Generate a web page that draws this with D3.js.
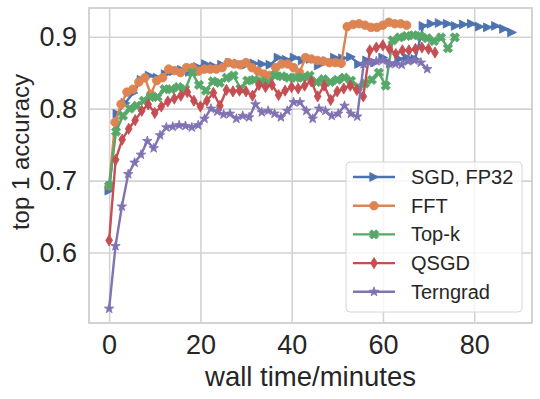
<!DOCTYPE html>
<html>
<head>
<meta charset="utf-8">
<script src="https://cdnjs.cloudflare.com/ajax/libs/d3/7.8.5/d3.min.js"></script>
<style>
body { margin: 0; background: #fff; }
svg text { font-family: "Liberation Sans", Arial, sans-serif; fill: #262626; }
</style>
</head>
<body>
<svg id="chart" width="540" height="399"></svg>
<script>
// methods, in legend / plotting order
const methods = ["SGD, FP32", "FFT", "Top-k", "QSGD", "Terngrad"];
const colors = ["#4c72b0", "#dd8452", "#55a868", "#c44e52", "#8172b3"];
// wall-clock minutes per epoch for each method
const epochMinutes = [1.765, 1.304, 1.515, 1.428, 1.394];

// top-1 accuracy after each epoch (0..50)
const sgdAcc = [0.686, 0.793, 0.808, 0.822, 0.840, 0.846, 0.843, 0.848, 0.852, 0.854,
    0.851, 0.858, 0.862, 0.859, 0.861, 0.864, 0.863, 0.861, 0.863, 0.862,
    0.861, 0.871, 0.868, 0.871, 0.867, 0.869, 0.860, 0.866, 0.871, 0.870,
    0.872, 0.862, 0.867, 0.864, 0.871, 0.862, 0.869, 0.871, 0.869, 0.915,
    0.918, 0.919, 0.918, 0.915, 0.917, 0.918, 0.914, 0.913, 0.915, 0.911, 0.906];
const fftAcc = [0.693, 0.781, 0.806, 0.823, 0.827, 0.837, 0.843, 0.820, 0.839, 0.843,
    0.855, 0.853, 0.850, 0.857, 0.857, 0.852, 0.855, 0.855, 0.855, 0.857,
    0.864, 0.862, 0.861, 0.864, 0.857, 0.852, 0.848, 0.846, 0.857, 0.862,
    0.862, 0.857, 0.850, 0.871, 0.869, 0.867, 0.866, 0.864, 0.864, 0.863,
    0.914, 0.917, 0.918, 0.916, 0.913, 0.913, 0.916, 0.920, 0.918, 0.918, 0.916];
const topkAcc = [0.693, 0.768, 0.790, 0.800, 0.804, 0.811, 0.816, 0.816, 0.827, 0.827,
    0.830, 0.827, 0.850, 0.833, 0.825, 0.838, 0.836, 0.843, 0.846, 0.828,
    0.839, 0.840, 0.838, 0.836, 0.846, 0.845, 0.843, 0.843, 0.843, 0.846,
    0.837, 0.841, 0.837, 0.840, 0.843, 0.839, 0.830, 0.835, 0.840, 0.850,
    0.832, 0.895, 0.899, 0.901, 0.902, 0.901, 0.898, 0.894, 0.899, 0.884, 0.899];
const qsgdAcc = [0.617, 0.729, 0.757, 0.772, 0.784, 0.797, 0.806, 0.794, 0.803, 0.810,
    0.814, 0.818, 0.823, 0.811, 0.803, 0.811, 0.822, 0.804, 0.826, 0.824,
    0.825, 0.824, 0.818, 0.833, 0.830, 0.833, 0.819, 0.825, 0.830, 0.828,
    0.832, 0.838, 0.817, 0.832, 0.812, 0.824, 0.828, 0.832, 0.826, 0.817,
    0.881, 0.885, 0.888, 0.883, 0.876, 0.881, 0.881, 0.883, 0.885, 0.883, 0.878];
const ternAcc = [0.522, 0.609, 0.664, 0.709, 0.725, 0.736, 0.755, 0.745, 0.763, 0.774,
    0.775, 0.777, 0.776, 0.774, 0.777, 0.786, 0.800, 0.796, 0.792, 0.793,
    0.786, 0.790, 0.788, 0.806, 0.795, 0.797, 0.793, 0.788, 0.797, 0.809,
    0.809, 0.797, 0.786, 0.800, 0.797, 0.790, 0.793, 0.804, 0.793, 0.789,
    0.862, 0.864, 0.866, 0.867, 0.863, 0.862, 0.861, 0.866, 0.867, 0.864, 0.855];

const xTicks = [0, 20, 40, 60, 80];
const yTicks = [0.6, 0.7, 0.8, 0.9];

const margin = {left: 89, right: 8, top: 8, bottom: 76};
const width = 540, height = 399;
const w = width - margin.left - margin.right;
const h = height - margin.top - margin.bottom;

const accs = [sgdAcc, fftAcc, topkAcc, qsgdAcc, ternAcc];
const series = methods.map((name, k) => ({
    name: name,
    color: colors[k],
    points: accs[k].map((a, i) => ({t: i * epochMinutes[k], a: a}))
}));

// matplotlib-like 5% padding around the data
const allPts = series.flatMap(s => s.points);
const tExt = d3.extent(allPts, d => d.t);
const aExt = d3.extent(allPts, d => d.a);
const tPad = (tExt[1] - tExt[0]) * 0.05;
const aPad = (aExt[1] - aExt[0]) * 0.05;

const x = d3.scaleLinear().domain([tExt[0] - tPad, tExt[1] + tPad]).range([0, w]);
const y = d3.scaleLinear().domain([aExt[0] - aPad, aExt[1] + aPad]).range([h, 0]);

// marker shapes
function starPath(ro, ri) {
    let p = [];
    for (let i = 0; i < 10; i++) {
        const r = i % 2 ? ri : ro;
        const ang = -Math.PI / 2 + i * Math.PI / 5;
        p.push([r * Math.cos(ang), r * Math.sin(ang)]);
    }
    return "M" + p.map(q => q[0].toFixed(2) + "," + q[1].toFixed(2)).join("L") + "Z";
}
function xPath(a, b) {
    const pts = [[b, a], [b, b], [a, b], [a, -b], [b, -b], [b, -a], [-b, -a], [-b, -b], [-a, -b], [-a, b], [-b, b], [-b, a]];
    const c = Math.SQRT1_2;
    return "M" + pts.map(q => ((q[0] - q[1]) * c).toFixed(2) + "," + ((q[0] + q[1]) * c).toFixed(2)).join("L") + "Z";
}
const markers = [
    "M4.6,0L-4.2,-4.4L-4.2,4.4Z",
    "M4.3,0A4.3,4.3 0 1,1 -4.3,0A4.3,4.3 0 1,1 4.3,0Z",
    xPath(4.8, 1.8),
    "M0,-5.6L3.4,0L0,5.6L-3.4,0Z",
    starPath(5, 2)
];

const svg = d3.select("#chart");
const g = svg.append("g").attr("transform", `translate(${margin.left},${margin.top})`);

// axes + grid
const xAxis = g.append("g").attr("transform", `translate(0,${h})`)
    .call(d3.axisBottom(x).tickValues(xTicks).tickSize(-h).tickPadding(12).tickFormat(d3.format("d")));
const yAxis = g.append("g")
    .call(d3.axisLeft(y).tickValues(yTicks).tickSize(-w).tickPadding(12).tickFormat(d3.format(".1f")));
[xAxis, yAxis].forEach(a => {
    a.select(".domain").remove();
    a.selectAll(".tick line").attr("stroke", "#d3d3d3").attr("stroke-width", 1.6);
    a.selectAll(".tick text").attr("font-size", 27).attr("fill", "#262626")
        .style("font-family", '"Liberation Sans", Arial, sans-serif');
});

g.append("rect").attr("width", w).attr("height", h)
    .attr("fill", "none").attr("stroke", "#cfcfcf").attr("stroke-width", 1.8);

// lines and markers
const line = d3.line().x(d => x(d.t)).y(d => y(d.a));
series.forEach((s, k) => {
    const sg = g.append("g");
    sg.append("path").datum(s.points).attr("d", line)
        .attr("fill", "none").attr("stroke", s.color).attr("stroke-width", 2.4)
        .attr("stroke-linejoin", "round");
    sg.selectAll("path.mk").data(s.points).enter().append("path")
        .attr("class", "mk")
        .attr("d", markers[k])
        .attr("transform", d => `translate(${x(d.t)},${y(d.a)})`)
        .attr("fill", s.color).attr("stroke", s.color).attr("stroke-width", 0.8);
});

// axis labels
svg.append("text").attr("x", margin.left + w / 2).attr("y", 386)
    .attr("text-anchor", "middle").attr("font-size", 27.5).text("wall time/minutes");
svg.append("text").attr("transform", "translate(29,152) rotate(-90)")
    .attr("text-anchor", "middle").attr("font-size", 24).text("top 1 accuracy");

// legend
const lg = svg.append("g").attr("transform", "translate(346,162)");
lg.append("rect").attr("width", 176).attr("height", 150).attr("rx", 4)
    .attr("fill", "#fff").attr("fill-opacity", 0.8)
    .attr("stroke", "#d6d6d6").attr("stroke-width", 1);
series.forEach((s, k) => {
    const row = lg.append("g").attr("transform", `translate(0,${15 + k * 28.7})`);
    row.append("line").attr("x1", 7).attr("x2", 49)
        .attr("stroke", s.color).attr("stroke-width", 2.4);
    row.append("path").attr("d", markers[k]).attr("transform", "translate(28,0)")
        .attr("fill", s.color).attr("stroke", s.color).attr("stroke-width", 0.8);
    row.append("text").attr("x", 65).attr("dy", "0.35em").attr("font-size", 20).text(s.name);
});
</script>
</body>
</html>
